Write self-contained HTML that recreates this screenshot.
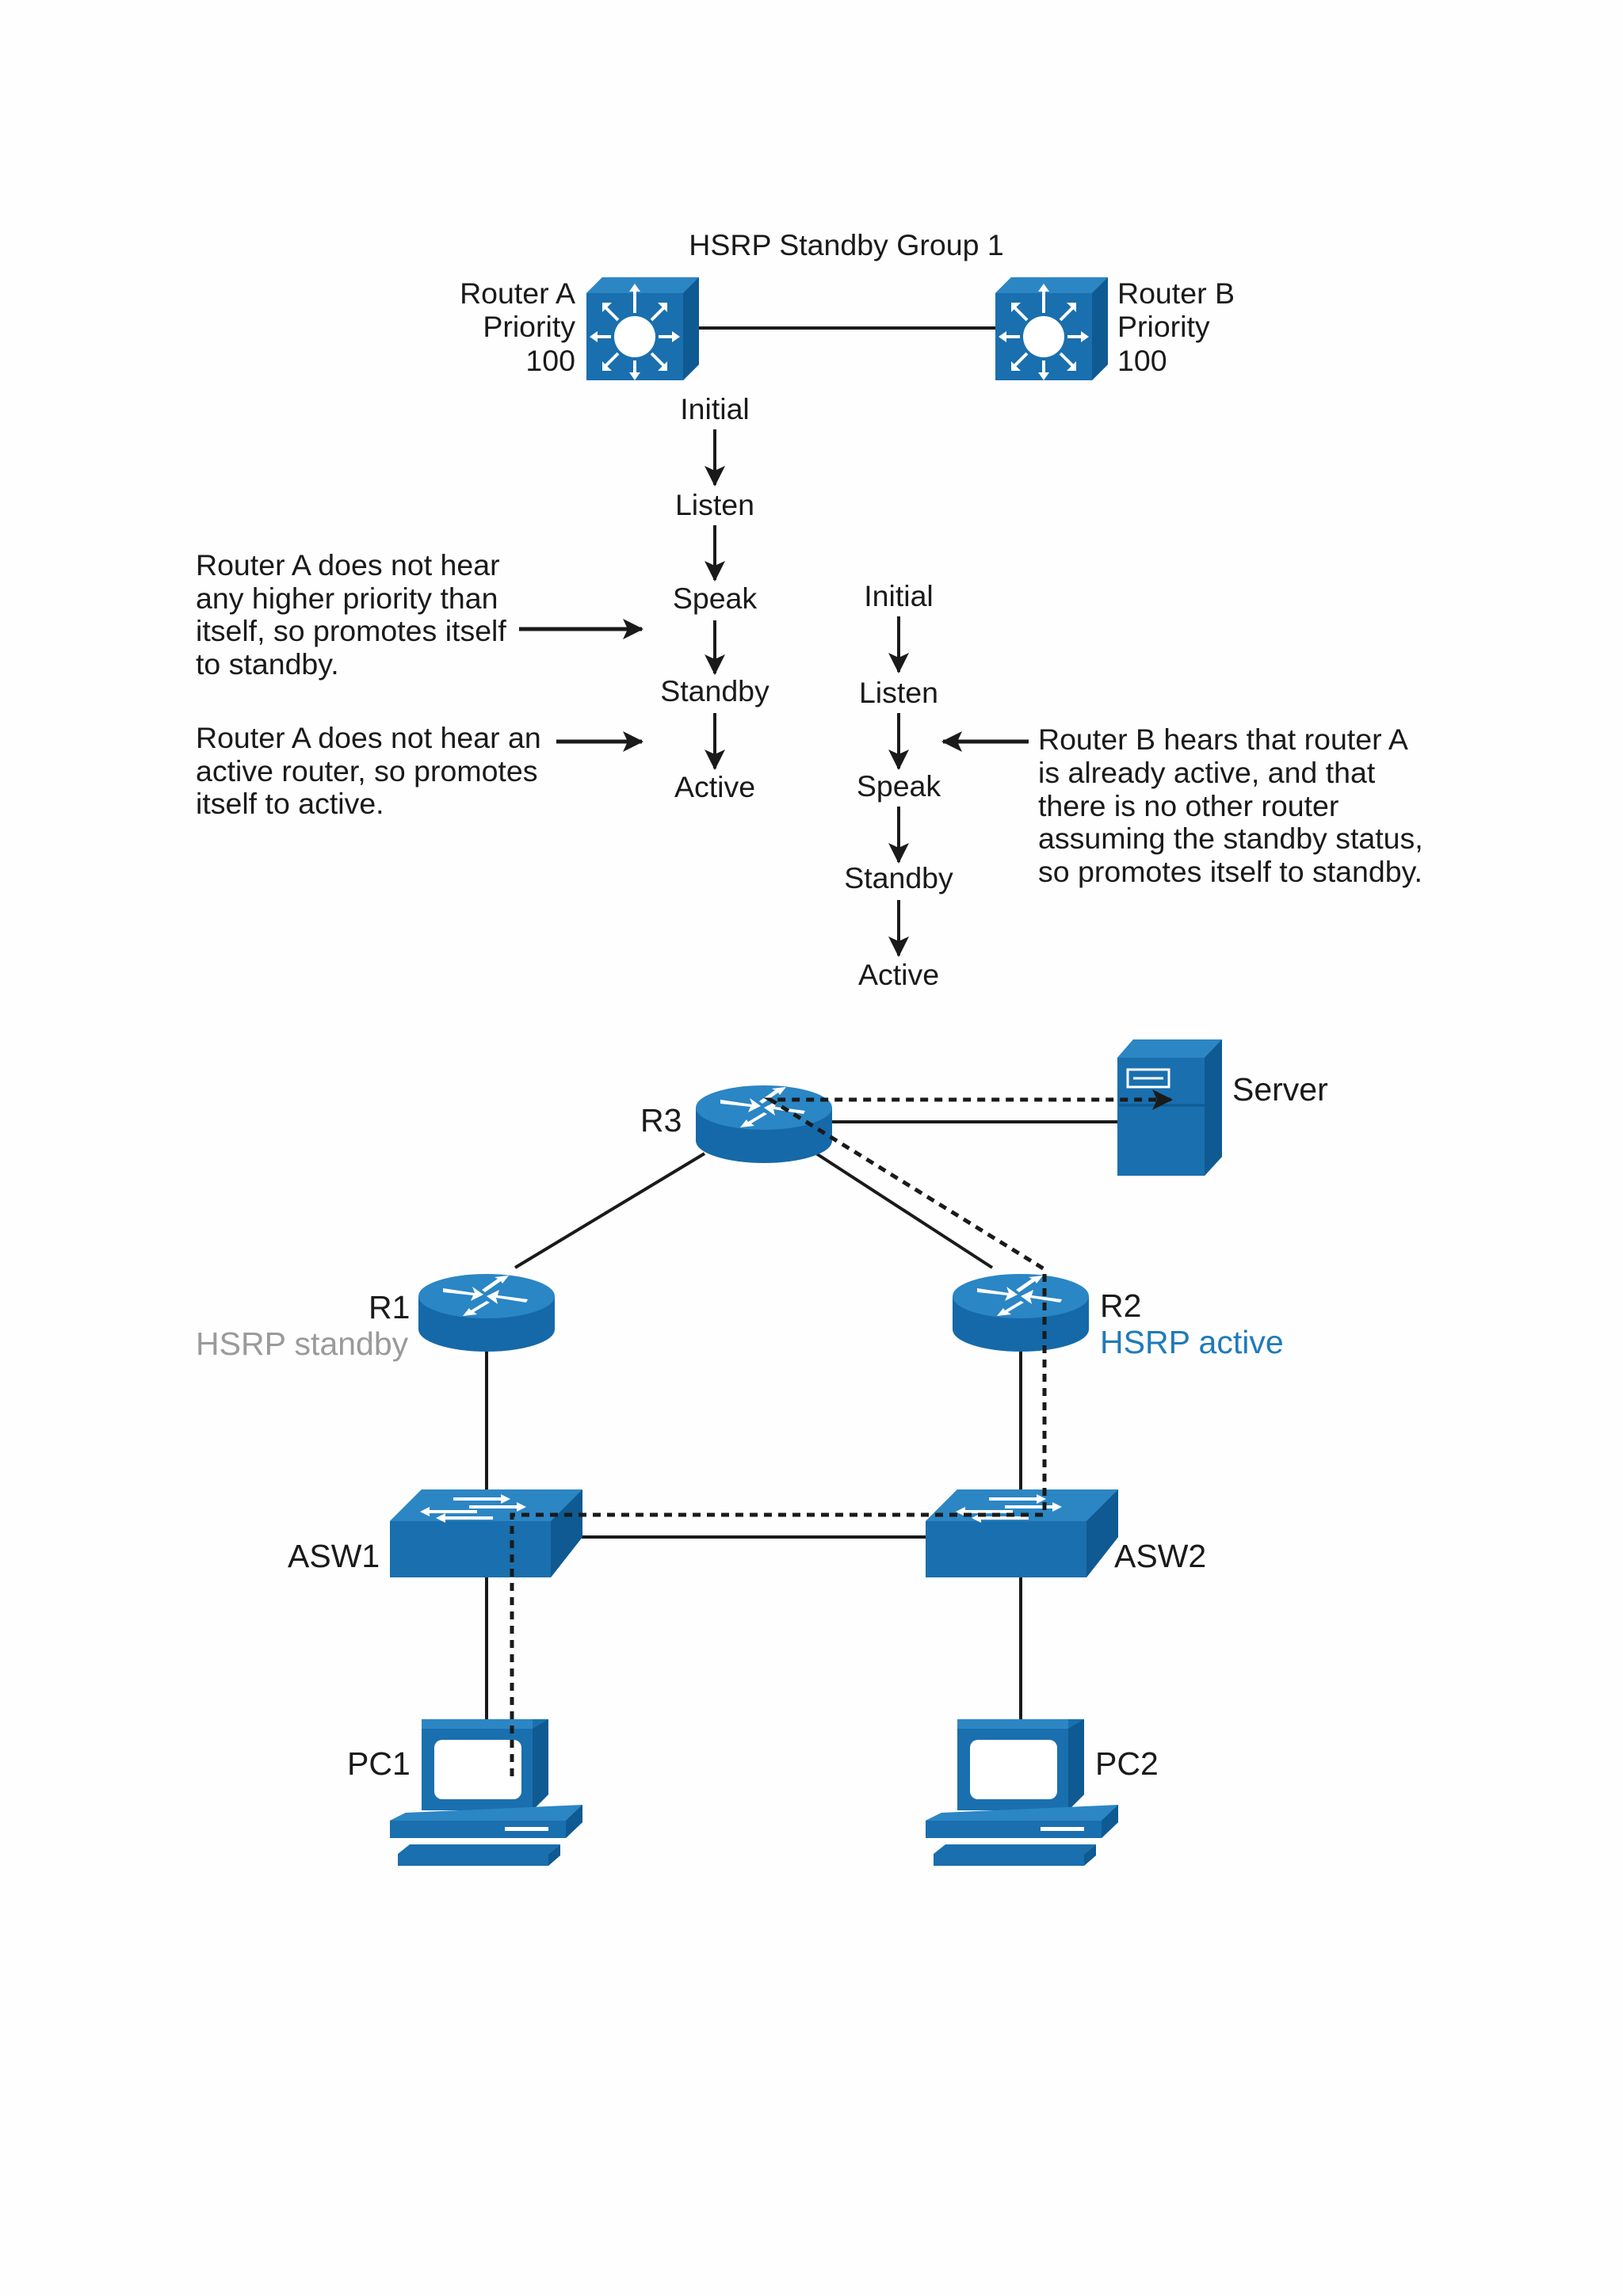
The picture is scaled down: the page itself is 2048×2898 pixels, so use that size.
<!DOCTYPE html>
<html><head><meta charset="utf-8"><style>
html,body{margin:0;padding:0;background:#fefefe;}
svg{display:block}
text{font-family:"Liberation Sans",Arial,sans-serif;font-size:37.5px;fill:#1a1a1a}
.n{font-size:41px}
</style></head><body>
<svg width="2048" height="2898" viewBox="0 0 2048 2898" xmlns="http://www.w3.org/2000/svg">
<defs>
<marker id="ahb" markerWidth="26" markerHeight="26" refX="24" refY="13" orient="auto" markerUnits="userSpaceOnUse" viewBox="0 0 26 26">
<path d="M0,0 L26,13 L0,26 L6,13 z" fill="#1a1a1a"/></marker>
<g id="l3sw">
<path d="M0,20 L20,0 L142,0 L142,110 L122,130 L0,130 z" fill="#1a6fae"/>
<path d="M0,20 L20,0 L142,0 L122,20 z" fill="#2c86c4"/>
<path d="M122,20 L142,0 L142,110 L122,130 z" fill="#0f5a92"/>
<circle cx="61" cy="75" r="26" fill="#fff"/>
<g stroke="#fff" stroke-width="4" fill="none">
<path d="M61,45 V14 M61,105 V124 M31,75 H10 M91,75 H112 M40,54 L24,38 M82,54 L98,38 M40,96 L24,112 M82,96 L98,112"/></g>
<g fill="#fff"><path d="M54,18 L61,8 L68,18z M54,120 L61,130 L68,120z M14,68 L4,75 L14,82z M108,68 L118,75 L108,82z M20,44 L20,32 L32,32z M102,44 L102,32 L90,32z M20,106 L20,118 L32,118z M102,106 L102,118 L90,118z"/></g>
</g>
<g id="rtr">
<path d="M-86,0 V42 A86,28 0 0 0 86,42 V0 z" fill="#1569a8"/>
<ellipse cx="0" cy="0" rx="86" ry="28" fill="#2a86c4"/>
<g fill="#fff">
<path d="M-55,-10 L-15,-4 L-18,-12 L-4,-2 L-20,6 L-17,-1 L-55,-5z"/>
<path d="M50,8 L12,2 L14,10 L0,0 L16,-8 L14,-1 L52,4z"/>
<path d="M-6,-8 L14,-22 L10,-24 L28,-26 L20,-16 L18,-19 L-2,-5z"/>
<path d="M4,8 L-16,20 L-12,23 L-30,25 L-22,15 L-20,18 L0,6z"/>
</g>
</g>
<g id="asw">
<path d="M0,40 L40,0 L243,0 L243,60 L203,111 L0,111 z" fill="#1a6fae"/>
<path d="M0,40 L40,0 L243,0 L203,40 z" fill="#2c86c4"/>
<path d="M203,40 L243,0 L243,60 L203,111 z" fill="#0f5a92"/>
<g stroke="#fff" stroke-width="4"><path d="M80,12 H140 M100,22 H160 M50,28 H110 M70,36 H130"/></g>
<g fill="#fff"><path d="M140,6 L152,12 L140,18z M160,16 L172,22 L160,28z M50,22 L38,28 L50,34z M70,30 L58,36 L70,42z"/></g>
</g>
<g id="pc">
<path d="M40,0 L200,0 L200,95 L180,115 L40,115 z" fill="#1a6fae"/>
<path d="M180,12 L200,0 L200,95 L180,115 z" fill="#0f5a92"/>
<rect x="40" y="0" width="140" height="12" fill="#2c86c4"/>
<rect x="56" y="26" width="110" height="75" rx="10" fill="#fff"/>
<path d="M20,118 L40,118 L40,120 L200,120 L243,108 L243,130 L222,150 L0,150 L0,128 z" fill="#1a6fae"/>
<path d="M0,128 L20,118 L243,108 L222,128 z" fill="#2c86c4"/>
<path d="M222,128 L243,108 L243,130 L222,150z" fill="#0f5a92"/>
<rect x="145" y="136" width="55" height="5" fill="#fff"/>
<path d="M10,170 L25,158 L215,158 L200,170 L200,185 L10,185z" fill="#1a6fae"/>
<path d="M200,170 L215,158 L215,172 L200,185z" fill="#0f5a92"/>
</g>
</defs>

<text x="1068" y="322" text-anchor="middle">HSRP Standby Group 1</text>
<line x1="882" y1="414" x2="1256" y2="414" stroke="#1a1a1a" stroke-width="4"/>
<use href="#l3sw" x="740" y="350"/>
<use href="#l3sw" x="1256" y="350"/>
<g text-anchor="end"><text x="726" y="383">Router A</text><text x="726" y="425">Priority</text><text x="726" y="468">100</text></g>
<text x="1410" y="383">Router B</text><text x="1410" y="425">Priority</text><text x="1410" y="468">100</text>

<g text-anchor="middle">
<text x="902" y="529">Initial</text><text x="902" y="650">Listen</text><text x="902" y="768">Speak</text><text x="902" y="885">Standby</text><text x="902" y="1006">Active</text>
<text x="1134" y="765">Initial</text><text x="1134" y="887">Listen</text><text x="1134" y="1005">Speak</text><text x="1134" y="1121">Standby</text><text x="1134" y="1243">Active</text>
</g>
<g stroke="#1a1a1a" stroke-width="4" marker-end="url(#ahb)">
<line x1="902" y1="542" x2="902" y2="612"/><line x1="902" y1="663" x2="902" y2="732"/><line x1="902" y1="783" x2="902" y2="850"/><line x1="902" y1="900" x2="902" y2="970"/>
<line x1="1134" y1="778" x2="1134" y2="848"/><line x1="1134" y1="900" x2="1134" y2="970"/><line x1="1134" y1="1018" x2="1134" y2="1088"/><line x1="1134" y1="1136" x2="1134" y2="1206"/>
<line x1="655" y1="794" x2="810" y2="794" stroke-width="5"/><line x1="702" y1="936" x2="810" y2="936" stroke-width="5"/><line x1="1298" y1="936" x2="1190" y2="936" stroke-width="5"/>
</g>
<text x="247" y="726">Router A does not hear</text><text x="247" y="768">any higher priority than</text><text x="247" y="809">itself, so promotes itself</text><text x="247" y="851">to standby.</text>
<text x="247" y="944">Router A does not hear an</text><text x="247" y="986">active router, so promotes</text><text x="247" y="1027">itself to active.</text>
<text x="1310" y="946">Router B hears that router A</text><text x="1310" y="988">is already active, and that</text><text x="1310" y="1030">there is no other router</text><text x="1310" y="1071">assuming the standby status,</text><text x="1310" y="1113">so promotes itself to standby.</text>

<g stroke="#1a1a1a" stroke-width="4">
<line x1="889" y1="1456" x2="650" y2="1600"/><line x1="1030" y1="1456" x2="1252" y2="1600"/>
<line x1="1050" y1="1416" x2="1410" y2="1416"/>
<line x1="614" y1="1690" x2="614" y2="1880"/><line x1="1288" y1="1690" x2="1288" y2="1880"/>
<line x1="734" y1="1940" x2="1168" y2="1940"/>
<line x1="614" y1="1989" x2="614" y2="2170"/><line x1="1288" y1="1989" x2="1288" y2="2170"/>
</g>
<use href="#rtr" x="964" y="1398"/>
<use href="#rtr" x="614" y="1636"/>
<use href="#rtr" x="1288" y="1636"/>
<use href="#asw" x="492" y="1880"/>
<use href="#asw" x="1168" y="1880"/>
<use href="#pc" x="492" y="2170"/>
<use href="#pc" x="1168" y="2170"/>
<g>
<path d="M1410,1335 L1430,1312 L1542,1312 L1542,1460 L1520,1484 L1410,1484z" fill="#1a6fae"/>
<path d="M1410,1335 L1430,1312 L1542,1312 L1520,1335z" fill="#2c86c4"/>
<path d="M1520,1335 L1542,1312 L1542,1460 L1520,1484z" fill="#0f5a92"/>
<rect x="1423" y="1350" width="52" height="22" fill="none" stroke="#fff" stroke-width="3"/>
<line x1="1430" y1="1361" x2="1468" y2="1361" stroke="#fff" stroke-width="3"/>
<line x1="1412" y1="1395" x2="1520" y2="1395" stroke="#0f5a92" stroke-width="3"/>
</g>
<path d="M646,2242 V1912 H1318 V1602 L972,1388 H1478" fill="none" stroke="#1a1a1a" stroke-width="5" stroke-dasharray="10,8" marker-end="url(#ahb)"/>

<text class="n" x="1555" y="1389">Server</text>
<text class="n" x="808" y="1428">R3</text>
<text class="n" x="465" y="1664">R1</text>
<text class="n" x="247" y="1710" style="fill:#9a9a9a">HSRP standby</text>
<text class="n" x="1388" y="1662">R2</text>
<text class="n" x="1388" y="1708" style="fill:#1f7bb8">HSRP active</text>
<text class="n" x="363" y="1978">ASW1</text>
<text class="n" x="1406" y="1978">ASW2</text>
<text class="n" x="438" y="2240">PC1</text>
<text class="n" x="1382" y="2240">PC2</text>
</svg>
</body></html>
